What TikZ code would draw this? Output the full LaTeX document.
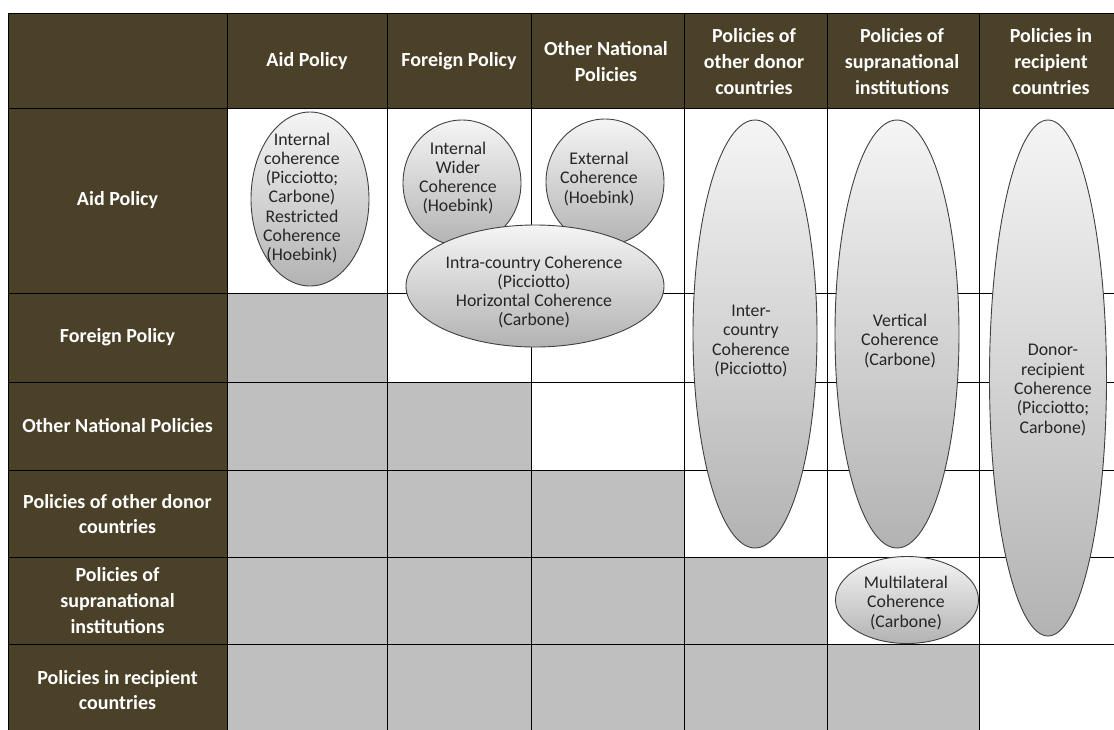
\documentclass[tikz,border=0pt]{standalone}
\usepackage{fontspec}
\setmainfont{Carlito}
\usetikzlibrary{shapes.geometric}
\definecolor{olive}{HTML}{4A4128}
\definecolor{cellgray}{HTML}{BFBFBF}

\begin{document}
\begin{tikzpicture}[x=1pt,y=-1pt,
    hdr/.style={text=white, font=\fontsize{20}{25.7}\selectfont\bfseries, align=center},
    coh/.style={ellipse, draw=black!75, line width=0.9pt, top color=black!4, bottom color=black!30, inner sep=0pt},
    cohtxt/.style={font=\fontsize{17.8}{19.3}\selectfont, text=black!85, align=center}]
    \useasboundingbox (0,0) rectangle (1114,729);
    \clip (0,0) rectangle (1114,729);

    % header row and column
    \fill[olive] (8,13) rectangle (1123,108);
    \fill[olive] (8,108) rectangle (227,736);

    % grey cells below the diagonal
    \foreach \ya/\yb [count=\r] in {108/293,293/382,382/470,470/557,557/644,644/736} {
        \foreach \xa/\xb [count=\c] in {227/387,387/531,531/684,684/827,827/979,979/1123} {
            \ifnum\c<\r \fill[cellgray] (\xa,\ya) rectangle (\xb,\yb); \fi
        }
    }

    % grid
    \foreach \x in {8,227,387,531,684,827,979} \draw[line width=0.8pt] (\x,13) -- (\x,736);
    \foreach \y in {13,108,293,382,470,557,644} \draw[line width=0.8pt] (8,\y) -- (1123,\y);

    % column headers
    \node[hdr] (hAid) at (307,61.5) {Aid Policy};
    \node[hdr] (hFor) at (459,61.5) {Foreign Policy};
    \node[hdr] (hOth) at (606,61.5) {Other National\\Policies};
    \node[hdr] (hDon) at (754,61.5) {Policies of\\other donor\\countries};
    \node[hdr] (hSup) at (902,61.5) {Policies of\\supranational\\institutions};
    \node[hdr] (hRec) at (1051,61.5) {Policies in\\recipient\\countries};

    % row headers
    \node[hdr] (rAid) at (117.5,200.5) {Aid Policy};
    \node[hdr] (rFor) at (117.5,337.5) {Foreign Policy};
    \node[hdr] (rOth) at (117.5,426) {Other National Policies};
    \node[hdr] (rDon) at (117.5,514) {Policies of other donor\\countries};
    \node[hdr] (rSup) at (117.5,600.5) {Policies of\\supranational\\institutions};
    \node[hdr] (rRec) at (117.5,690) {Policies in recipient\\countries};

    % coherence ellipses
    \node[coh, minimum width=118, minimum height=174] (intern) at (310,199) {};
    \node[coh, minimum width=118, minimum height=126] (wider) at (462,183) {};
    \node[coh, minimum width=118, minimum height=126] (extern) at (605,182) {};
    \node[coh, minimum width=258, minimum height=122] (intra) at (535,286) {};
    \node[coh, minimum width=124, minimum height=428] (inter) at (755,334) {};
    \node[coh, minimum width=124, minimum height=428] (vert) at (897,334) {};
    \node[coh, minimum width=117, minimum height=516] (donrec) at (1048,378) {};
    \node[coh, minimum width=143, minimum height=87] (multi) at (907,600) {};

    % labels
    \node[cohtxt] (internT) at (302,198) {Internal\\coherence\\(Picciotto;\\Carbone)\\Restricted\\Coherence\\(Hoebink)};
    \node[cohtxt] (widerT) at (458,178) {Internal\\Wider\\Coherence\\(Hoebink)};
    \node[cohtxt] (externT) at (599,179) {External\\Coherence\\(Hoebink)};
    \node[cohtxt] (intraT) at (534,292) {Intra-country Coherence\\(Picciotto)\\Horizontal Coherence\\(Carbone)};
    \node[cohtxt] (interT) at (751,341) {Inter-\\country\\Coherence\\(Picciotto)};
    \node[cohtxt] (vertT) at (900,341) {Vertical\\Coherence\\(Carbone)};
    \node[cohtxt] (donrecT) at (1053,390) {Donor-\\recipient\\Coherence\\(Picciotto;\\Carbone)};
    \node[cohtxt] (multiT) at (906,603) {Multilateral\\Coherence\\(Carbone)};

\end{tikzpicture}
\end{document}
